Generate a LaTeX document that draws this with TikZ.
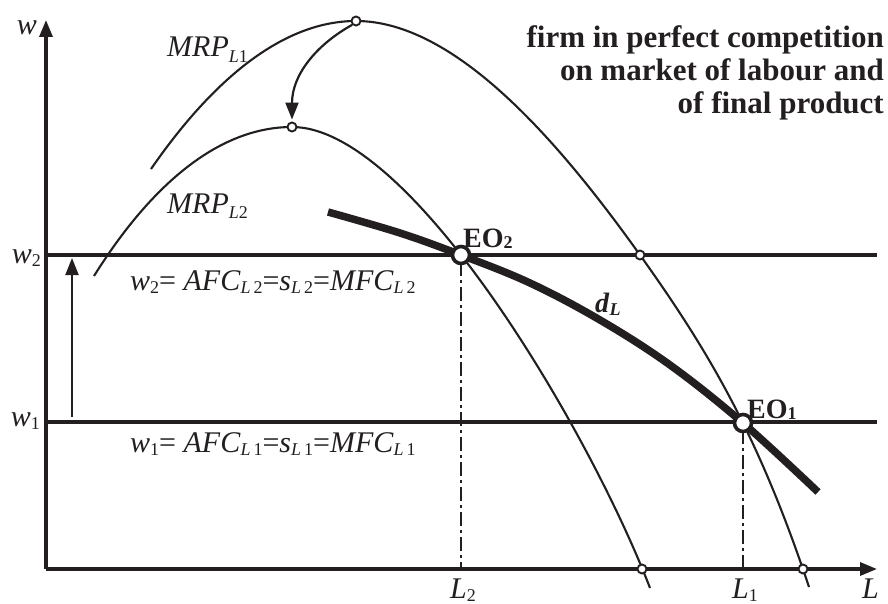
\documentclass[tikz,border=0pt]{standalone}
\usepackage{fontspec}
\setmainfont{Liberation Serif}
\usetikzlibrary{arrows.meta,positioning}
\definecolor{ink}{RGB}{35,31,32}
\newcommand{\sbs}[2][-0.12em]{\raisebox{#1}{\fontsize{18}{18}\selectfont #2}}

\begin{document}
\begin{tikzpicture}[x=1pt, y=-1pt, color=ink,
  axis/.style={line width=3.3pt, -{Triangle[length=17pt,width=13pt]}},
  level/.style={line width=3.2pt},
  mrp/.style={line width=2.1pt},
  demand/.style={line width=7.5pt},
  guide/.style={line width=2.6pt, dash pattern=on 14pt off 4pt on 3pt off 4pt},
  shiftarrow/.style={line width=2.2pt, -{Triangle[length=17pt,width=13pt]}},
  dot/.style={circle, draw, fill=white, line width=1.9pt, inner sep=0pt, minimum size=9pt},
  eqpt/.style={circle, draw, fill=white, line width=3.6pt, inner sep=0pt, minimum size=17pt},
  lbl/.style={font=\fontsize{30}{30}\selectfont, inner sep=0pt},
  boldlbl/.style={font=\fontsize{28}{28}\selectfont\bfseries, inner sep=0pt},
]
\useasboundingbox (0,0) rectangle (888,604);

% Axes
\coordinate (O) at (46,569);
\coordinate (wtop) at (46,20);
\coordinate (Lend) at (877,569);
\draw[axis] (O) -- (wtop);
\draw[axis] (O) -- (Lend);

% Wage levels
\coordinate (w2a) at (46,255);
\coordinate (w2b) at (877,255);
\coordinate (w1a) at (46,422);
\coordinate (w1b) at (877,422);
\draw[level] (w2a) -- (w2b);
\draw[level] (w1a) -- (w1b);

% MRP curves
\draw[mrp] (151,169) .. controls (216,75) and (286,21) .. (356,21)
  .. controls (456,21) and (560,143) .. (640,255)
  .. controls (710,353) and (759,437) .. (809,587);
\draw[mrp] (94,276) .. controls (154,180) and (222,127) .. (292,127)
  .. controls (412,127) and (590,432) .. (650,588);

% Demand for labour
\draw[demand] plot[smooth, tension=0.6] coordinates {(328,212) (400,233) (461,255) (530,283) (600,320) (670,365)
  (743,423) (818,492)};

% Points
\node[dot] (top1) at (356,21) {};
\node[dot] (top2) at (292,127) {};
\node[dot] (cut1) at (640,255) {};
\node[dot] (cut2) at (642,569) {};
\node[dot] (cut3) at (803,569) {};

% Equilibria and guides
\coordinate (L2pt) at (461,569);
\coordinate (L1pt) at (743,569);
\draw[guide] (461,262) -- (L2pt);
\draw[guide] (743,430) -- (L1pt);
\node[eqpt] (eo2) at (461,255) {};
\node[eqpt] (eo1) at (743,423) {};

% Shifts
\draw[shiftarrow, shorten >=2pt] (top1.south west) .. controls (316,45) and (292,75) .. (top2.north);
\coordinate (upa) at (72,417);
\coordinate (upb) at (72,258);
\draw[shiftarrow] (upa) -- (upb);

% Labels
\node[lbl, anchor=base] (wlab) at (27,35) {\textit{w}};
\node[lbl, anchor=base east] (w2lab) at (41,263) {\textit{w}\sbs{2}};
\node[lbl, anchor=base east] (w1lab) at (40,426) {\textit{w}\sbs{1}};
\node[lbl, anchor=base west] (mrp1) at (167,57) {\textit{MRP}\sbs[-0.2em]{\textit{L}1}};
\node[lbl, anchor=base west] (mrp2) at (167,213) {\textit{MRP}\sbs[-0.2em]{\textit{L}2}};
\node[lbl, anchor=base west] (eq2) at (130,290) {\textit{w}\sbs{2}= \textit{AFC}\sbs{\textit{L}\,2}=\textit{s}\sbs{\textit{L}\,2}=\textit{MFC}\sbs{\textit{L}\,2}};
\node[lbl, anchor=base west] (eq1) at (130,452) {\textit{w}\sbs{1}= \textit{AFC}\sbs{\textit{L}\,1}=\textit{s}\sbs{\textit{L}\,1}=\textit{MFC}\sbs{\textit{L}\,1}};
\node[boldlbl, anchor=base west] (eo2lab) at (463,247) {EO\sbs[-0.05em]{\bfseries 2}};
\node[boldlbl, anchor=base west] (eo1lab) at (747,418) {EO\sbs[-0.05em]{\bfseries 1}};
\node[boldlbl, anchor=base west] (dlab) at (595,312) {\textit{d}\sbs{\bfseries\itshape L}};
\node[lbl, anchor=base west] (L2lab) at (450,598) {\textit{L}\sbs{2}};
\node[lbl, anchor=base west] (L1lab) at (732,598) {\textit{L}\sbs{1}};
\node[lbl, anchor=base west] (Llab) at (862,598) {\textit{L}};

% Title
\node[anchor=north east, align=right, inner sep=0pt, font=\fontsize{31}{33}\selectfont\bfseries] (title) at (884,25)
  {firm in perfect competition\\on market of labour and\\of final product};
\end{tikzpicture}
\end{document}
